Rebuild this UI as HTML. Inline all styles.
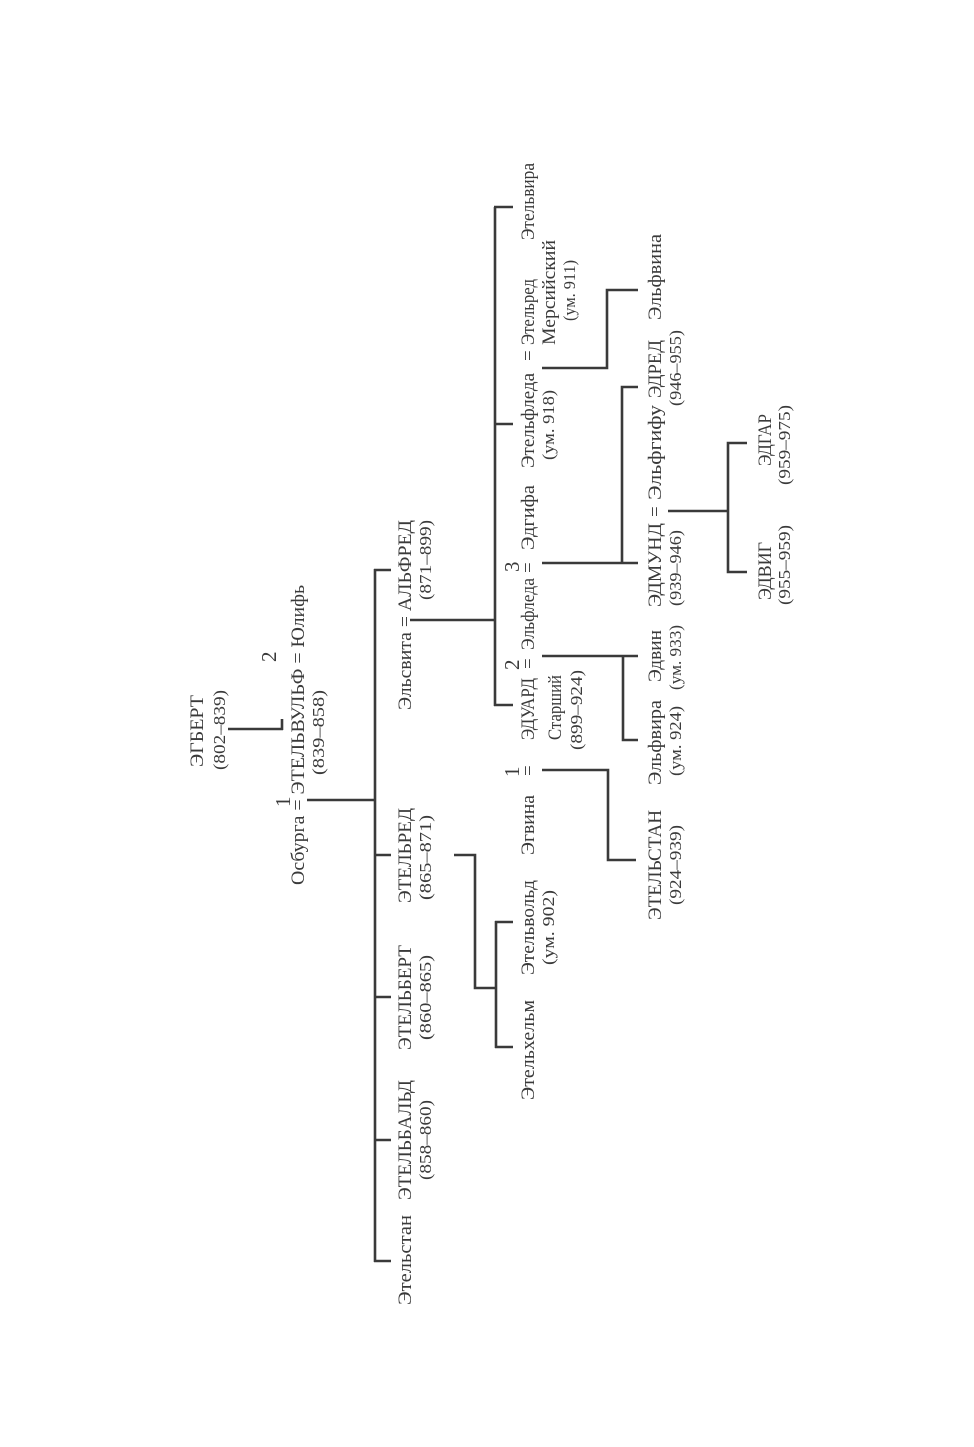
<!DOCTYPE html>
<html><head><meta charset="utf-8">
<style>
html,body{margin:0;padding:0;background:#fff;}
svg{display:block;}
text{font-family:"Liberation Serif","DejaVu Serif",serif;fill:#3a3a3a;font-size:19px;}
.s{font-size:17px;}
.n{font-size:21px;}
line,polyline{stroke:#3a3a3a;stroke-width:2.6;fill:none;}
</style></head><body>
<svg width="974" height="1447" viewBox="0 0 974 1447" xmlns="http://www.w3.org/2000/svg">
<line x1="228" y1="729" x2="283" y2="729"/>
<line x1="282" y1="719" x2="282" y2="730"/>
<line x1="307" y1="800" x2="375" y2="800"/>
<line x1="375" y1="569" x2="375" y2="1262"/>
<line x1="374" y1="570" x2="391" y2="570"/>
<line x1="374" y1="855" x2="391" y2="855"/>
<line x1="374" y1="997" x2="391" y2="997"/>
<line x1="374" y1="1140" x2="391" y2="1140"/>
<line x1="374" y1="1261" x2="391" y2="1261"/>
<polyline points="454,855 475,855 475,988 496,988"/>
<line x1="496" y1="921" x2="496" y2="1048"/>
<line x1="495" y1="922" x2="513" y2="922"/>
<line x1="495" y1="1047" x2="513" y2="1047"/>
<line x1="410" y1="620" x2="495" y2="620"/>
<line x1="495" y1="207" x2="495" y2="706"/>
<line x1="494" y1="207" x2="513" y2="207"/>
<line x1="494" y1="424" x2="513" y2="424"/>
<line x1="494" y1="705" x2="513" y2="705"/>
<polyline points="542,770 608,770 608,860 636,860"/>
<line x1="542" y1="656" x2="638" y2="656"/>
<polyline points="623,656 623,740 638,740"/>
<line x1="542" y1="563" x2="638" y2="563"/>
<polyline points="622,563 622,387 638,387"/>
<polyline points="542,368 607,368 607,290 638,290"/>
<line x1="668" y1="511" x2="728" y2="511"/>
<polyline points="747,443 728,443 728,572 747,572"/>

<text transform="translate(203,767) rotate(-90)" textLength="72" lengthAdjust="spacingAndGlyphs">ЭГБЕРТ</text>
<text class="s" transform="translate(225,770) rotate(-90)" textLength="80" lengthAdjust="spacingAndGlyphs">(802–839)</text>
<text transform="translate(304,885) rotate(-90)" textLength="300" lengthAdjust="spacingAndGlyphs">Осбурга = ЭТЕЛЬВУЛЬФ = Юлифь</text>
<text class="n" transform="translate(290,807) rotate(-90)">1</text>
<text class="n" transform="translate(276,662) rotate(-90)">2</text>
<text class="s" transform="translate(324,775) rotate(-90)" textLength="85" lengthAdjust="spacingAndGlyphs">(839–858)</text>

<text transform="translate(411,1305) rotate(-90)" textLength="90" lengthAdjust="spacingAndGlyphs">Этельстан</text>
<text transform="translate(411,1200) rotate(-90)" textLength="120" lengthAdjust="spacingAndGlyphs">ЭТЕЛЬБАЛЬД</text>
<text class="s" transform="translate(431,1180) rotate(-90)" textLength="80" lengthAdjust="spacingAndGlyphs">(858–860)</text>
<text transform="translate(411,1050) rotate(-90)" textLength="105" lengthAdjust="spacingAndGlyphs">ЭТЕЛЬБЕРТ</text>
<text class="s" transform="translate(431,1040) rotate(-90)" textLength="85" lengthAdjust="spacingAndGlyphs">(860–865)</text>
<text transform="translate(411,903) rotate(-90)" textLength="95" lengthAdjust="spacingAndGlyphs">ЭТЕЛЬРЕД</text>
<text class="s" transform="translate(431,900) rotate(-90)" textLength="85" lengthAdjust="spacingAndGlyphs">(865–871)</text>
<text transform="translate(411,710) rotate(-90)" textLength="190" lengthAdjust="spacingAndGlyphs">Эльсвита = АЛЬФРЕД</text>
<text class="s" transform="translate(431,600) rotate(-90)" textLength="80" lengthAdjust="spacingAndGlyphs">(871–899)</text>

<text transform="translate(534,975) rotate(-90)" textLength="95" lengthAdjust="spacingAndGlyphs">Этельвольд</text>
<text class="s" transform="translate(554,965) rotate(-90)" textLength="75" lengthAdjust="spacingAndGlyphs">(ум. 902)</text>
<text transform="translate(534,1100) rotate(-90)" textLength="100" lengthAdjust="spacingAndGlyphs">Этельхельм</text>

<text transform="translate(534,855) rotate(-90)" textLength="60" lengthAdjust="spacingAndGlyphs">Эгвина</text>
<text transform="translate(534,776) rotate(-90)">=</text>
<text class="n" transform="translate(519,777) rotate(-90)">1</text>
<text transform="translate(534,740) rotate(-90)" textLength="62" lengthAdjust="spacingAndGlyphs">ЭДУАРД</text>
<text transform="translate(534,669) rotate(-90)">=</text>
<text class="n" transform="translate(519,670) rotate(-90)">2</text>
<text transform="translate(534,650) rotate(-90)" textLength="72" lengthAdjust="spacingAndGlyphs">Эльфледа</text>
<text transform="translate(534,573) rotate(-90)">=</text>
<text class="n" transform="translate(519,572) rotate(-90)">3</text>
<text transform="translate(534,550) rotate(-90)" textLength="65" lengthAdjust="spacingAndGlyphs">Эдгифа</text>
<text transform="translate(534,468) rotate(-90)" textLength="95" lengthAdjust="spacingAndGlyphs">Этельфледа</text>
<text transform="translate(534,361) rotate(-90)">=</text>
<text transform="translate(534,345) rotate(-90)" textLength="66" lengthAdjust="spacingAndGlyphs">Этельред</text>
<text transform="translate(534,240) rotate(-90)" textLength="77" lengthAdjust="spacingAndGlyphs">Этельвира</text>
<text transform="translate(561,740) rotate(-90)" textLength="65" lengthAdjust="spacingAndGlyphs">Старший</text>
<text class="s" transform="translate(582,750) rotate(-90)" textLength="80" lengthAdjust="spacingAndGlyphs">(899–924)</text>
<text class="s" transform="translate(554,460) rotate(-90)" textLength="70" lengthAdjust="spacingAndGlyphs">(ум. 918)</text>
<text transform="translate(555,345) rotate(-90)" textLength="105" lengthAdjust="spacingAndGlyphs">Мерсийский</text>
<text class="s" transform="translate(575,321) rotate(-90)" textLength="61" lengthAdjust="spacingAndGlyphs">(ум. 911)</text>

<text transform="translate(661,920) rotate(-90)" textLength="110" lengthAdjust="spacingAndGlyphs">ЭТЕЛЬСТАН</text>
<text class="s" transform="translate(681,905) rotate(-90)" textLength="80" lengthAdjust="spacingAndGlyphs">(924–939)</text>
<text transform="translate(661,785) rotate(-90)" textLength="85" lengthAdjust="spacingAndGlyphs">Эльфвира</text>
<text class="s" transform="translate(681,776) rotate(-90)" textLength="70" lengthAdjust="spacingAndGlyphs">(ум. 924)</text>
<text transform="translate(661,682) rotate(-90)" textLength="52" lengthAdjust="spacingAndGlyphs">Эдвин</text>
<text class="s" transform="translate(681,690) rotate(-90)" textLength="65" lengthAdjust="spacingAndGlyphs">(ум. 933)</text>
<text transform="translate(661,607) rotate(-90)" textLength="84" lengthAdjust="spacingAndGlyphs">ЭДМУНД</text>
<text transform="translate(661,517) rotate(-90)">=</text>
<text transform="translate(661,500) rotate(-90)" textLength="95" lengthAdjust="spacingAndGlyphs">Эльфгифу</text>
<text class="s" transform="translate(681,606) rotate(-90)" textLength="76" lengthAdjust="spacingAndGlyphs">(939–946)</text>
<text transform="translate(661,398) rotate(-90)" textLength="58" lengthAdjust="spacingAndGlyphs">ЭДРЕД</text>
<text class="s" transform="translate(681,406) rotate(-90)" textLength="76" lengthAdjust="spacingAndGlyphs">(946–955)</text>
<text transform="translate(661,320) rotate(-90)" textLength="86" lengthAdjust="spacingAndGlyphs">Эльфвина</text>

<text transform="translate(771,600) rotate(-90)" textLength="58" lengthAdjust="spacingAndGlyphs">ЭДВИГ</text>
<text class="s" transform="translate(790,605) rotate(-90)" textLength="80" lengthAdjust="spacingAndGlyphs">(955–959)</text>
<text transform="translate(771,466) rotate(-90)" textLength="52" lengthAdjust="spacingAndGlyphs">ЭДГАР</text>
<text class="s" transform="translate(790,485) rotate(-90)" textLength="80" lengthAdjust="spacingAndGlyphs">(959–975)</text>
</svg>
</body></html>
